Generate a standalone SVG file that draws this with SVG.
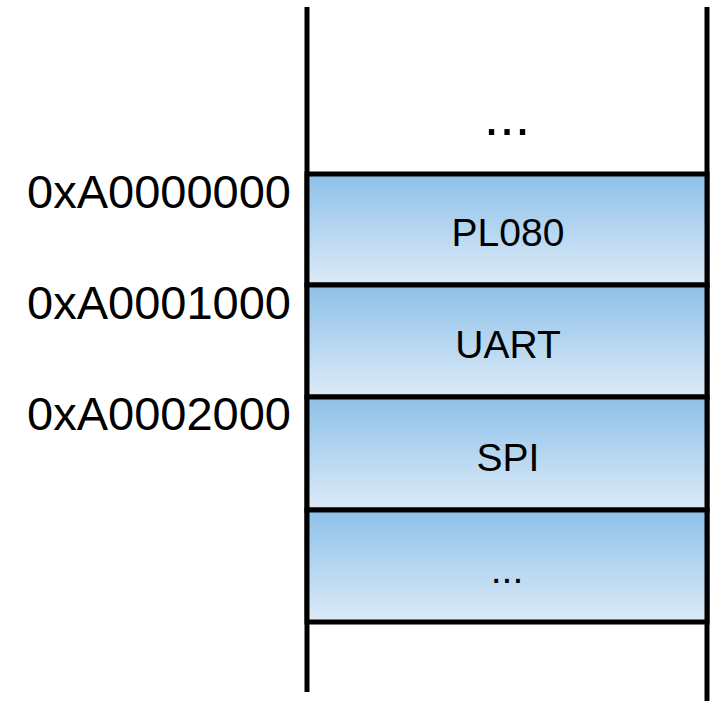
<svg xmlns="http://www.w3.org/2000/svg" width="723" height="703" viewBox="0 0 723 703">
<defs>
<linearGradient id="g" x1="0" y1="0" x2="0" y2="1">
<stop offset="0" stop-color="#8DC0E8"/>
<stop offset="1" stop-color="#DDEBF8"/>
</linearGradient>
<style>
.box{fill:url(#g);stroke:#000;stroke-width:5}
.line{stroke:#000;stroke-width:5;fill:none}
.lbl{font-family:"Liberation Sans",Arial,sans-serif;font-size:39px;fill:#000;text-anchor:middle}
.addr{font-family:"Liberation Sans",Arial,sans-serif;font-size:47px;fill:#000;text-anchor:end}
</style>
</defs>
<g id="connectors">
<line class="line" x1="307" y1="7" x2="307" y2="692"/>
<line class="line" x1="707" y1="7" x2="707" y2="701"/>
</g>
<g id="top-ellipsis"><text class="lbl" x="507" y="135" style="font-size:56px">...</text></g>
<g id="pl080"><rect class="box" x="307" y="174" width="400" height="111"/><text class="lbl" x="508" y="246">PL080</text></g>
<g id="uart"><rect class="box" x="307" y="285" width="400" height="112"/><text class="lbl" x="508" y="358">UART</text></g>
<g id="spi"><rect class="box" x="307" y="397" width="400" height="113"/><text class="lbl" x="508" y="471">SPI</text></g>
<g id="more"><rect class="box" x="307" y="510" width="400" height="112"/><text class="lbl" x="507" y="583">...</text></g>
<g id="addr0"><text class="addr" x="291" y="208">0xA0000000</text></g>
<g id="addr1"><text class="addr" x="291" y="319">0xA0001000</text></g>
<g id="addr2"><text class="addr" x="291" y="430">0xA0002000</text></g>
</svg>
